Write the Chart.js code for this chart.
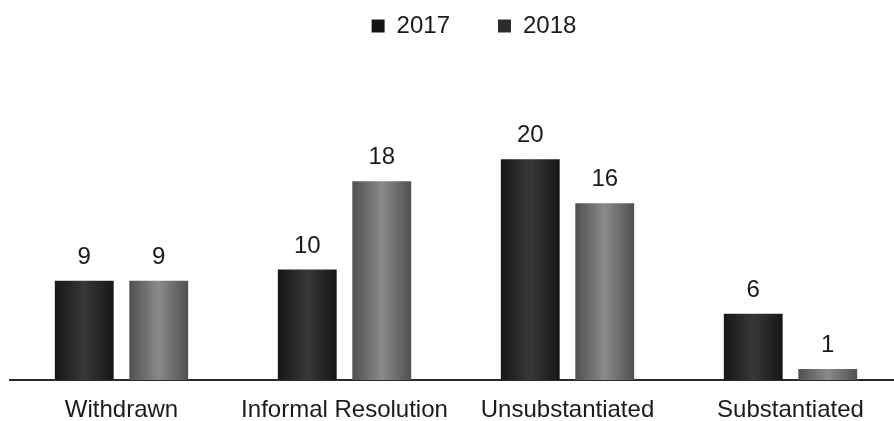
<!DOCTYPE html>
<html>
<head>
<meta charset="utf-8">
<script src="https://cdn.jsdelivr.net/npm/chart.js@4.4.1/dist/chart.umd.min.js"></script>
<style>
  html, body { margin: 0; padding: 0; background: #fff; overflow: hidden; }
  #wrap { width: 894px; height: 421px; position: relative; overflow: hidden; }
  #c { position: absolute; left: 0; top: 0; }
</style>
</head>
<body>
<div id="wrap"><canvas id="c" width="902" height="440"></canvas></div>
<script>
const categories = ["Withdrawn", "Informal Resolution", "Unsubstantiated", "Substantiated"];
const seriesNames = ["2017", "2018"];
const values2017 = [9, 10, 20, 6];
const values2018 = [9, 18, 16, 1];

const FONT = "'Liberation Sans', Arial, sans-serif";
const palettes = [
  { edge: "#161616", mid: "#383838", legend: "#141414" },
  { edge: "#505050", mid: "#8a8a8a", legend: "#2c2c2c" }
];

const gradientPlugin = {
  id: "barGradient",
  beforeDatasetsDraw(chart) {
    const ctx = chart.ctx;
    chart.data.datasets.forEach((ds, di) => {
      const meta = chart.getDatasetMeta(di);
      const p = palettes[di];
      meta.data.forEach(bar => {
        const left = bar.x - bar.width / 2, right = bar.x + bar.width / 2;
        const g = ctx.createLinearGradient(left, 0, right, 0);
        g.addColorStop(0, p.edge);
        g.addColorStop(0.5, p.mid);
        g.addColorStop(1, p.edge);
        bar.options.backgroundColor = g;
      });
    });
  }
};

const labelPlugin = {
  id: "valueLabels",
  afterDatasetsDraw(chart) {
    const ctx = chart.ctx;
    ctx.save();
    ctx.font = "24px " + FONT;
    ctx.fillStyle = "#1a1a1a";
    ctx.textAlign = "center";
    ctx.textBaseline = "alphabetic";
    chart.data.datasets.forEach((ds, di) => {
      const meta = chart.getDatasetMeta(di);
      meta.data.forEach((bar, i) => {
        ctx.fillText(String(ds.data[i]), bar.x, bar.y - 17);
      });
    });
    ctx.restore();
  }
};

const LEGEND_DX = 18, LEGEND_DY = -34;
const legendPlugin = {
  id: "legendTweak",
  beforeInit(chart) {
    const lg = chart.legend;
    if (!lg) return;
    const origFit = lg.fit;
    lg.fit = function () {
      origFit.call(this);
      this.height = 104;
    };
    const origDraw = lg.draw;
    lg.draw = function () {
      const l = this.left, r = this.right, t = this.top, b = this.bottom;
      this.left += LEGEND_DX; this.right += LEGEND_DX;
      this.top += LEGEND_DY; this.bottom += LEGEND_DY;
      origDraw.call(this);
      this.left = l; this.right = r; this.top = t; this.bottom = b;
    };
  }
};

new Chart(document.getElementById("c"), {
  type: "bar",
  data: {
    labels: categories,
    datasets: [
      { label: seriesNames[0], data: values2017, backgroundColor: (c) => palettes[0].mid, categoryPercentage: 0.668, barPercentage: 0.79 },
      { label: seriesNames[1], data: values2018, backgroundColor: (c) => palettes[1].mid, categoryPercentage: 0.668, barPercentage: 0.79 }
    ]
  },
  options: {
    responsive: false,
    animation: false,
    layout: { padding: { left: 10, right: 0, top: 0, bottom: 0 } },
    plugins: {
      legend: {
        display: true,
        position: "top",
        align: "center",
        labels: {
          font: { family: FONT, size: 24 },
          color: "#1a1a1a",
          boxWidth: 13,
          boxHeight: 13,
          padding: 48,
          generateLabels(chart) {
            return chart.data.datasets.map((ds, i) => ({
              text: ds.label,
              fillStyle: palettes[i].legend,
              strokeStyle: palettes[i].legend,
              lineWidth: 0,
              hidden: false,
              datasetIndex: i,
              fontColor: "#1a1a1a"
            }));
          }
        }
      },
      tooltip: { enabled: false }
    },
    scales: {
      x: {
        grid: { display: false, drawTicks: false },
        border: { display: true, color: "#2a2a2a", width: 2 },
        ticks: { font: { family: FONT, size: 24, lineHeight: 1 }, color: "#1a1a1a", padding: 18, maxRotation: 0, autoSkip: false }
      },
      y: {
        display: false,
        min: 0,
        max: 25
      }
    }
  },
  plugins: [legendPlugin, gradientPlugin, labelPlugin]
});
</script>
</body>
</html>
